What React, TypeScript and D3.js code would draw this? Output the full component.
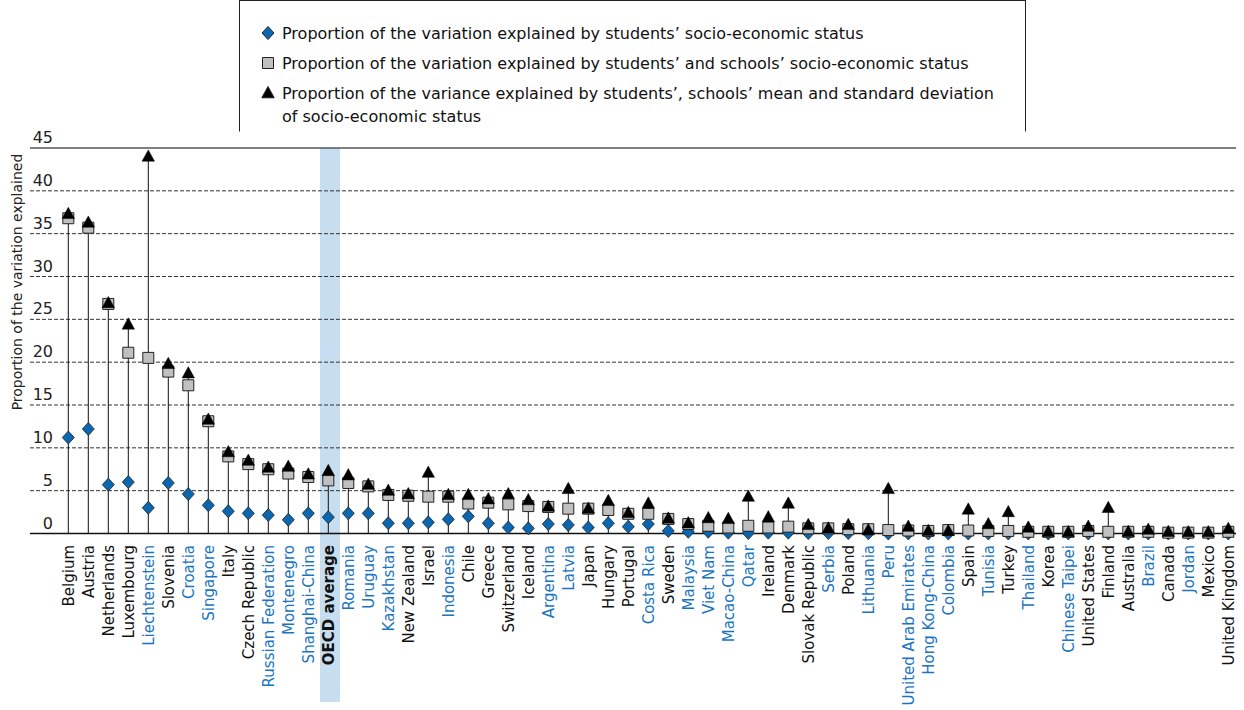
import React from "react";
import * as d3 from "d3";

const categories = [
  "Belgium", "Austria", "Netherlands", "Luxembourg", "Liechtenstein", "Slovenia", "Croatia", "Singapore",
  "Italy", "Czech Republic", "Russian Federation", "Montenegro", "Shanghai-China", "OECD average", "Romania",
  "Uruguay", "Kazakhstan", "New Zealand", "Israel", "Indonesia", "Chile", "Greece", "Switzerland", "Iceland",
  "Argentina", "Latvia", "Japan", "Hungary", "Portugal", "Costa Rica", "Sweden", "Malaysia", "Viet Nam",
  "Macao-China", "Qatar", "Ireland", "Denmark", "Slovak Republic", "Serbia", "Poland", "Lithuania", "Peru",
  "United Arab Emirates", "Hong Kong-China", "Colombia", "Spain", "Tunisia", "Turkey", "Thailand", "Korea",
  "Chinese Taipei", "United States", "Finland", "Australia", "Brazil", "Canada", "Jordan", "Mexico",
  "United Kingdom",
];

const partners = [
  "Liechtenstein", "Croatia", "Singapore", "Russian Federation", "Montenegro", "Shanghai-China", "Romania",
  "Uruguay", "Kazakhstan", "Indonesia", "Argentina", "Latvia", "Costa Rica", "Malaysia", "Viet Nam",
  "Macao-China", "Qatar", "Serbia", "Lithuania", "Peru", "United Arab Emirates", "Hong Kong-China",
  "Colombia", "Tunisia", "Thailand", "Chinese Taipei", "Brazil", "Jordan",
];

const highlight = "OECD average";

// Proportion of the variation explained by students' socio-economic status
const studentsESCS = [
  11.2, 12.2, 5.7, 6.0, 3.0, 5.9, 4.6, 3.3, 2.6, 2.35, 2.15, 1.6, 2.35, 1.9, 2.35, 2.35, 1.2, 1.2, 1.3, 1.65,
  2.0, 1.2, 0.7, 0.6, 1.1, 1.0, 0.7, 1.2, 0.8, 1.1, 0.3, 0.2, 0.2, 0.1, 0.05, 0.1, 0.1, 0.05, 0.05, 0.05,
  0.02, 0, 0, 0, 0, 0, 0, 0, 0, 0, 0, 0, 0, 0, 0, 0, 0, 0, 0,
];

// Proportion of the variation explained by students' and schools' socio-economic status
const studentsSchoolsESCS = [
  36.8, 35.7, 26.8, 21.1, 20.5, 18.9, 17.3, 13.1, 9.0, 8.1, 7.5, 7.0, 6.6, 6.2, 5.9, 5.5, 4.5, 4.4, 4.3, 4.3,
  3.5, 3.6, 3.4, 3.2, 3.1, 2.9, 2.9, 2.75, 2.3, 2.3, 1.7, 1.1, 0.9, 0.7, 0.9, 0.7, 0.8, 0.6, 0.6, 0.5, 0.5,
  0.4, 0.35, 0.3, 0.4, 0.35, 0.3, 0.3, 0.2, 0.2, 0.2, 0.3, 0.2, 0.2, 0.2, 0.1, 0.1, 0.1, 0.2,
];

// Proportion of the variance explained by students', schools' mean and standard deviation of ESCS
const fullModel = [
  37.2, 36.2, 26.8, 24.3, 43.9, 19.7, 18.6, 13.2, 9.4, 8.4, 7.6, 7.7, 6.8, 7.2, 6.7, 5.6, 4.9, 4.5, 7.0, 4.4,
  4.4, 3.9, 4.5, 3.8, 3.05, 5.1, 2.8, 3.7, 2.3, 3.4, 1.65, 1.1, 1.7, 1.6, 4.2, 1.8, 3.4, 0.9, 0.5, 0.9, 0.3,
  5.1, 0.7, 0.2, 0.2, 2.7, 1.0, 2.4, 0.6, 0.1, 0.05, 0.7, 2.9, 0.1, 0.35, 0.1, 0.05, 0.05, 0.45,
];

const yTicks = [0, 5, 10, 15, 20, 25, 30, 35, 40, 45];

const legendItems = [
  ["Proportion of the variation explained by students\u2019 socio-economic status"],
  ["Proportion of the variation explained by students\u2019 and schools\u2019 socio-economic status"],
  [
    "Proportion of the variance explained by students\u2019, schools\u2019 mean and standard deviation",
    "of socio-economic status",
  ],
];

const W = 1244;
const H = 710;
const FONT = "'DejaVu Sans', sans-serif";
const BLUE_TEXT = "#1a74bf";
const DIAMOND_FILL = "#0b66b0";
const SQUARE_FILL = "#c0c0c0";

const diamondPath = "M0,-6.5L6,0L0,6.5L-6,0Z";
const squarePath = "M-5.5,-5.5H5.5V5.5H-5.5Z";
const trianglePath = "M0,-7.5L6.2,3.8L-6.2,3.8Z";

export default function App() {
  const x = d3.scaleBand<string>().domain(categories).range([58.3, 1238.3]);
  const y = d3.scaleLinear().domain([0, 45]).range([533.5, 148]);
  const bw = x.bandwidth();
  const cx = (c: string) => (x(c) as number) + bw / 2;
  const gridX0 = 30;
  const gridX1 = 1236;

  return (
    <svg
      width={W}
      height={H}
      style={{ position: "absolute", left: 0, top: 0, background: "#fff" }}
      fontFamily={FONT}
    >
      {/* legend box */}
      <g>
        <line x1={239.5} x2={1025.5} y1={0.5} y2={0.5} stroke="#222" strokeWidth={1} />
        <line x1={239.5} x2={239.5} y1={0} y2={131.5} stroke="#222" strokeWidth={1} />
        <line x1={1025.5} x2={1025.5} y1={0} y2={131.5} stroke="#222" strokeWidth={1} />
        {legendItems.map((lines, i) => {
          const my = 33 + i * 30;
          const path = i === 0 ? diamondPath : i === 1 ? squarePath : trianglePath;
          const fill = i === 0 ? DIAMOND_FILL : i === 1 ? SQUARE_FILL : "#000";
          return (
            <g key={i}>
              <path d={path} transform={`translate(268,${my + (i === 2 ? 1 : 0)})`} fill={fill} stroke="#222" strokeWidth={1} />
              {lines.map((t, j) => (
                <text key={j} x={282} y={my + 6 + j * 23} fontSize={16} fill="#111">
                  {t}
                </text>
              ))}
            </g>
          );
        })}
      </g>

      {/* highlight band */}
      <rect x={cx(highlight) - 8.3} y={148} width={20} height={554} fill="#c6deef" />

      {/* gridlines */}
      {yTicks.map((t) => (
        <g key={t}>
          <line
            x1={gridX0}
            x2={gridX1}
            y1={y(t)}
            y2={y(t)}
            stroke={t === 0 ? "#111" : t === 45 ? "#555" : "#333"}
            strokeWidth={t === 0 || t === 45 ? 1.5 : 1}
            strokeDasharray={t === 0 || t === 45 ? undefined : "4,2"}
          />
          <text x={53} y={y(t) - 5} textAnchor="end" fontSize={16} fill="#222">
            {t}
          </text>
        </g>
      ))}

      {/* y axis title */}
      <text
        transform="translate(22,282) rotate(-90)"
        textAnchor="middle"
        fontSize={14}
        fill="#222"
      >
        Proportion of the variation explained
      </text>

      {/* stems */}
      {categories.map((c, i) => {
        const top = Math.max(studentsESCS[i], studentsSchoolsESCS[i], fullModel[i]);
        return (
          <line key={c} x1={cx(c)} x2={cx(c)} y1={y(0)} y2={y(top)} stroke="#111" strokeWidth={1} />
        );
      })}

      {/* diamonds */}
      {categories.map((c, i) => (
        <path key={c} d={diamondPath} transform={`translate(${cx(c)},${y(studentsESCS[i])})`} fill={DIAMOND_FILL} stroke="#222" strokeWidth={0.8} />
      ))}
      {/* squares */}
      {categories.map((c, i) => (
        <path key={c} d={squarePath} transform={`translate(${cx(c)},${y(studentsSchoolsESCS[i])})`} fill={SQUARE_FILL} stroke="#222" strokeWidth={1} />
      ))}
      {/* triangles */}
      {categories.map((c, i) => (
        <path key={c} d={trianglePath} transform={`translate(${cx(c)},${y(fullModel[i])})`} fill="#000" stroke="#000" strokeWidth={0.5} />
      ))}

      {/* category labels */}
      {categories.map((c) => (
        <text
          key={c}
          transform={`translate(${cx(c) + 5.5},545) rotate(-90)`}
          textAnchor="end"
          fontSize={15}
          fontWeight={c === highlight ? "bold" : "normal"}
          fill={partners.includes(c) ? BLUE_TEXT : "#111"}
        >
          {c}
        </text>
      ))}
    </svg>
  );
}
